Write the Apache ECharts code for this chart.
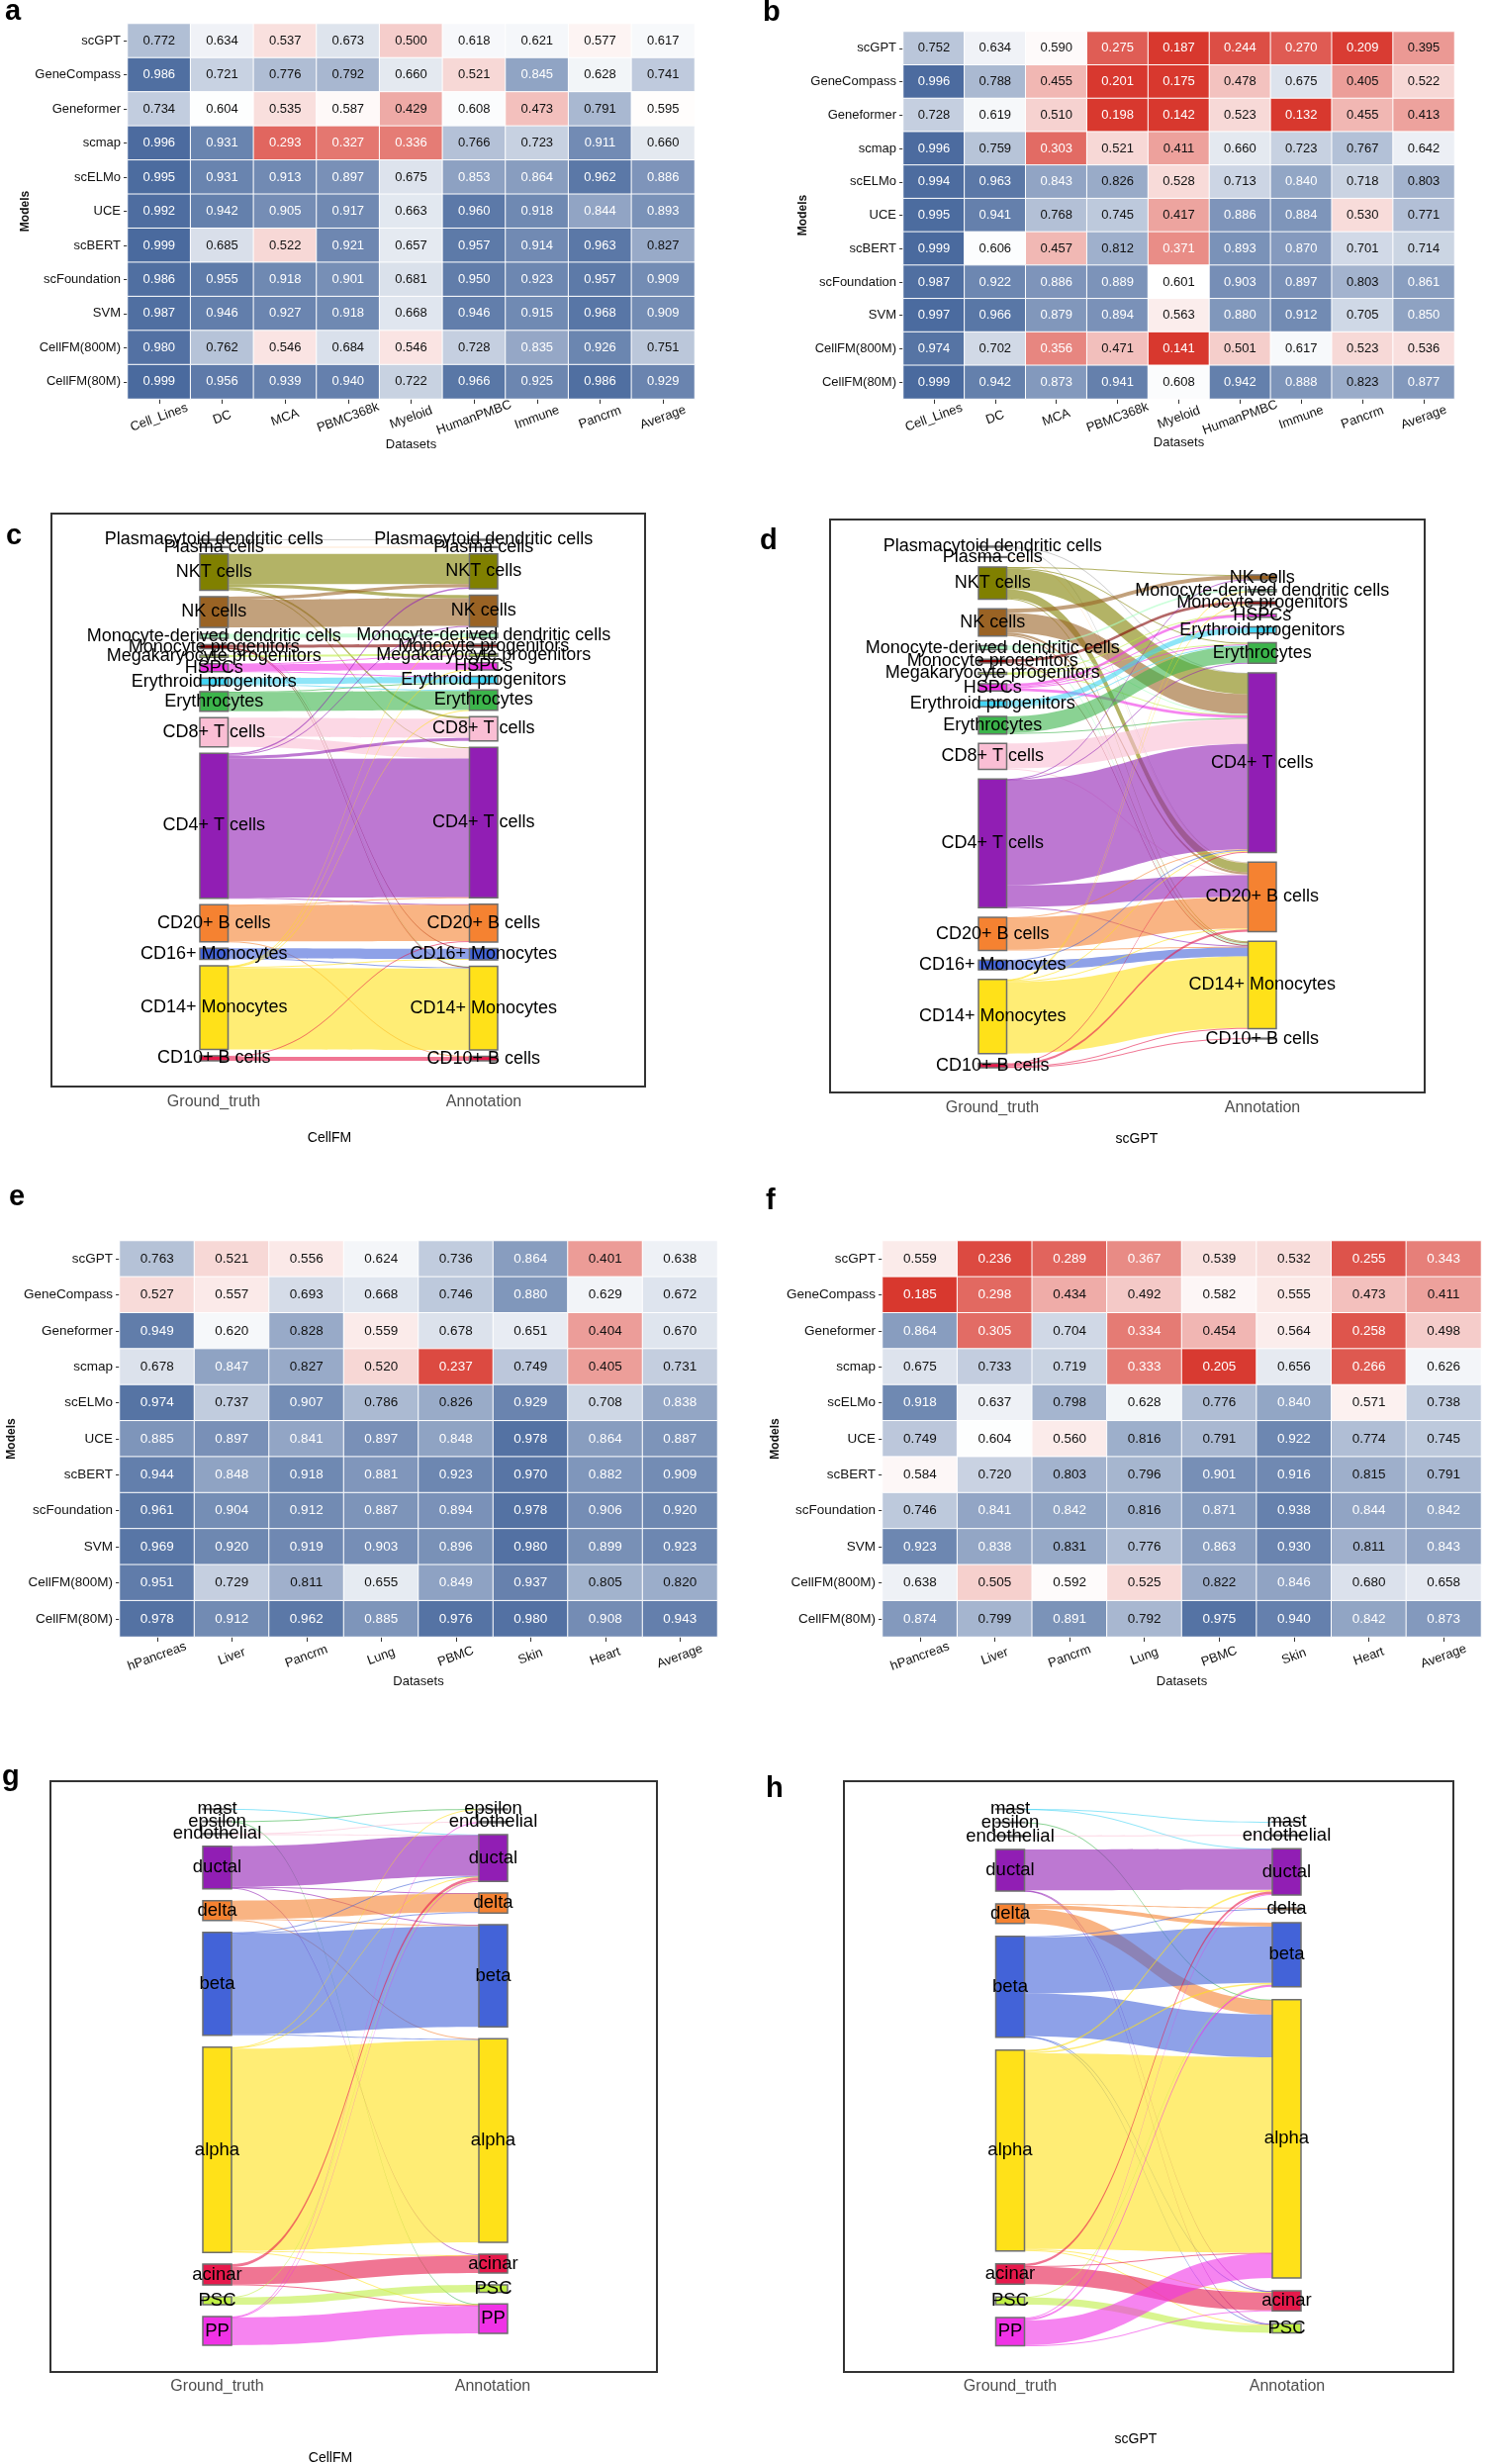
<!DOCTYPE html>
<html><head><meta charset="utf-8">
<script src="https://cdn.jsdelivr.net/npm/echarts@6/dist/echarts.min.js"></script>
<style>html,body{margin:0;padding:0;background:#fff}#c{width:1504px;height:2490px}</style>
</head><body><div id="c"></div>
<script>
// ---------------- DATA ----------------
const models = ['scGPT','GeneCompass','Geneformer','scmap','scELMo','UCE','scBERT','scFoundation','SVM','CellFM(800M)','CellFM(80M)'];
const datasetsAB = ['Cell_Lines','DC','MCA','PBMC368k','Myeloid','HumanPMBC','Immune','Pancrm','Average'];
const datasetsEF = ['hPancreas','Liver','Pancrm','Lung','PBMC','Skin','Heart','Average'];

const heatA = [
 [0.772,0.634,0.537,0.673,0.500,0.618,0.621,0.577,0.617],
 [0.986,0.721,0.776,0.792,0.660,0.521,0.845,0.628,0.741],
 [0.734,0.604,0.535,0.587,0.429,0.608,0.473,0.791,0.595],
 [0.996,0.931,0.293,0.327,0.336,0.766,0.723,0.911,0.660],
 [0.995,0.931,0.913,0.897,0.675,0.853,0.864,0.962,0.886],
 [0.992,0.942,0.905,0.917,0.663,0.960,0.918,0.844,0.893],
 [0.999,0.685,0.522,0.921,0.657,0.957,0.914,0.963,0.827],
 [0.986,0.955,0.918,0.901,0.681,0.950,0.923,0.957,0.909],
 [0.987,0.946,0.927,0.918,0.668,0.946,0.915,0.968,0.909],
 [0.980,0.762,0.546,0.684,0.546,0.728,0.835,0.926,0.751],
 [0.999,0.956,0.939,0.940,0.722,0.966,0.925,0.986,0.929]
];
const heatB = [
 [0.752,0.634,0.590,0.275,0.187,0.244,0.270,0.209,0.395],
 [0.996,0.788,0.455,0.201,0.175,0.478,0.675,0.405,0.522],
 [0.728,0.619,0.510,0.198,0.142,0.523,0.132,0.455,0.413],
 [0.996,0.759,0.303,0.521,0.411,0.660,0.723,0.767,0.642],
 [0.994,0.963,0.843,0.826,0.528,0.713,0.840,0.718,0.803],
 [0.995,0.941,0.768,0.745,0.417,0.886,0.884,0.530,0.771],
 [0.999,0.606,0.457,0.812,0.371,0.893,0.870,0.701,0.714],
 [0.987,0.922,0.886,0.889,0.601,0.903,0.897,0.803,0.861],
 [0.997,0.966,0.879,0.894,0.563,0.880,0.912,0.705,0.850],
 [0.974,0.702,0.356,0.471,0.141,0.501,0.617,0.523,0.536],
 [0.999,0.942,0.873,0.941,0.608,0.942,0.888,0.823,0.877]
];
const heatE = [
 [0.763,0.521,0.556,0.624,0.736,0.864,0.401,0.638],
 [0.527,0.557,0.693,0.668,0.746,0.880,0.629,0.672],
 [0.949,0.620,0.828,0.559,0.678,0.651,0.404,0.670],
 [0.678,0.847,0.827,0.520,0.237,0.749,0.405,0.731],
 [0.974,0.737,0.907,0.786,0.826,0.929,0.708,0.838],
 [0.885,0.897,0.841,0.897,0.848,0.978,0.864,0.887],
 [0.944,0.848,0.918,0.881,0.923,0.970,0.882,0.909],
 [0.961,0.904,0.912,0.887,0.894,0.978,0.906,0.920],
 [0.969,0.920,0.919,0.903,0.896,0.980,0.899,0.923],
 [0.951,0.729,0.811,0.655,0.849,0.937,0.805,0.820],
 [0.978,0.912,0.962,0.885,0.976,0.980,0.908,0.943]
];
const heatF = [
 [0.559,0.236,0.289,0.367,0.539,0.532,0.255,0.343],
 [0.185,0.298,0.434,0.492,0.582,0.555,0.473,0.411],
 [0.864,0.305,0.704,0.334,0.454,0.564,0.258,0.498],
 [0.675,0.733,0.719,0.333,0.205,0.656,0.266,0.626],
 [0.918,0.637,0.798,0.628,0.776,0.840,0.571,0.738],
 [0.749,0.604,0.560,0.816,0.791,0.922,0.774,0.745],
 [0.584,0.720,0.803,0.796,0.901,0.916,0.815,0.791],
 [0.746,0.841,0.842,0.816,0.871,0.938,0.844,0.842],
 [0.923,0.838,0.831,0.776,0.863,0.930,0.811,0.843],
 [0.638,0.505,0.592,0.525,0.822,0.846,0.680,0.658],
 [0.874,0.799,0.891,0.792,0.975,0.940,0.842,0.873]
];

const pbmcTypes = ['Plasmacytoid dendritic cells','Plasma cells','NKT cells','NK cells','Monocyte-derived dendritic cells','Monocyte progenitors','Megakaryocyte progenitors','HSPCs','Erythroid progenitors','Erythrocytes','CD8+ T cells','CD4+ T cells','CD20+ B cells','CD16+ Monocytes','CD14+ Monocytes','CD10+ B cells'];
const pbmcColors = ['#a9a9a9','#ffd8b1','#808000','#9a6324','#aaffc3','#800000','#bfef45','#f032e6','#42d4f4','#3cb44b','#fabed4','#911eb4','#f58231','#4363d8','#ffe119','#e6194b'];
const pancTypes = ['mast','epsilon','endothelial','ductal','delta','beta','alpha','acinar','PSC','PP'];
const pancColors = ['#42d4f4','#3cb44b','#fabed4','#911eb4','#f58231','#4363d8','#ffe119','#e6194b','#bfef45','#f032e6'];

// [ground truth, annotation, cells]
const linksCellFMPbmc = [
 ['Plasmacytoid dendritic cells','Plasmacytoid dendritic cells',10],
 ['Plasma cells','Plasma cells',8],
 ['NKT cells','NKT cells',300],['NKT cells','NK cells',30],['NKT cells','CD8+ T cells',20],['NKT cells','CD4+ T cells',10],
 ['NK cells','NK cells',275],['NK cells','NKT cells',30],
 ['Monocyte-derived dendritic cells','Monocyte-derived dendritic cells',40],['Monocyte-derived dendritic cells','CD14+ Monocytes',5],
 ['Monocyte progenitors','Monocyte progenitors',30],['Monocyte progenitors','CD14+ Monocytes',5],['Monocyte progenitors','CD16+ Monocytes',5],
 ['Megakaryocyte progenitors','Megakaryocyte progenitors',20],
 ['HSPCs','HSPCs',70],['HSPCs','Erythroid progenitors',5],['HSPCs','Megakaryocyte progenitors',5],
 ['Erythroid progenitors','Erythroid progenitors',60],['Erythroid progenitors','Erythrocytes',10],
 ['Erythrocytes','Erythrocytes',190],['Erythrocytes','Erythroid progenitors',5],
 ['CD8+ T cells','CD8+ T cells',190],['CD8+ T cells','CD4+ T cells',100],
 ['CD4+ T cells','CD4+ T cells',1380],['CD4+ T cells','CD8+ T cells',30],['CD4+ T cells','NKT cells',15],['CD4+ T cells','NK cells',10],['CD4+ T cells','CD20+ B cells',5],
 ['CD20+ B cells','CD20+ B cells',360],['CD20+ B cells','CD10+ B cells',5],['CD20+ B cells','CD4+ T cells',5],
 ['CD16+ Monocytes','CD16+ Monocytes',100],['CD16+ Monocytes','CD14+ Monocytes',10],
 ['CD14+ Monocytes','CD14+ Monocytes',809],['CD14+ Monocytes','CD16+ Monocytes',10],['CD14+ Monocytes','Monocyte-derived dendritic cells',5],['CD14+ Monocytes','HSPCs',3],['CD14+ Monocytes','Erythrocytes',3],
 ['CD10+ B cells','CD10+ B cells',40],['CD10+ B cells','CD20+ B cells',10]
];
const linksScGPTPbmc = [
 ['Plasmacytoid dendritic cells','CD4+ T cells',5],['Plasmacytoid dendritic cells','CD20+ B cells',5],
 ['Plasma cells','CD20+ B cells',8],
 ['NKT cells','CD4+ T cells',235],['NKT cells','CD20+ B cells',100],['NKT cells','NK cells',5],['NKT cells','CD14+ Monocytes',10],['NKT cells','Erythrocytes',10],
 ['NK cells','CD4+ T cells',220],['NK cells','NK cells',45],['NK cells','CD20+ B cells',25],['NK cells','CD14+ Monocytes',15],
 ['Monocyte-derived dendritic cells','Monocyte-derived dendritic cells',20],['Monocyte-derived dendritic cells','CD14+ Monocytes',15],['Monocyte-derived dendritic cells','CD4+ T cells',10],
 ['Monocyte progenitors','Monocyte progenitors',30],['Monocyte progenitors','CD14+ Monocytes',10],
 ['Megakaryocyte progenitors','Erythrocytes',10],['Megakaryocyte progenitors','HSPCs',5],['Megakaryocyte progenitors','CD4+ T cells',5],
 ['HSPCs','HSPCs',30],['HSPCs','CD4+ T cells',30],['HSPCs','Erythrocytes',10],['HSPCs','Erythroid progenitors',10],
 ['Erythroid progenitors','Erythroid progenitors',60],['Erythroid progenitors','Erythrocytes',10],
 ['Erythrocytes','Erythrocytes',185],['Erythrocytes','CD4+ T cells',10],
 ['CD8+ T cells','CD4+ T cells',280],['CD8+ T cells','CD20+ B cells',10],
 ['CD4+ T cells','CD4+ T cells',1180],['CD4+ T cells','CD20+ B cells',240],['CD4+ T cells','CD14+ Monocytes',10],['CD4+ T cells','NK cells',5],['CD4+ T cells','Erythrocytes',5],
 ['CD20+ B cells','CD20+ B cells',355],['CD20+ B cells','CD4+ T cells',5],['CD20+ B cells','CD14+ Monocytes',10],
 ['CD16+ Monocytes','CD14+ Monocytes',100],['CD16+ Monocytes','CD4+ T cells',10],
 ['CD14+ Monocytes','CD14+ Monocytes',800],['CD14+ Monocytes','CD20+ B cells',10],['CD14+ Monocytes','CD4+ T cells',10],['CD14+ Monocytes','Monocyte progenitors',5],['CD14+ Monocytes','Monocyte-derived dendritic cells',5],
 ['CD10+ B cells','CD10+ B cells',8],['CD10+ B cells','CD20+ B cells',25],['CD10+ B cells','CD4+ T cells',10],['CD10+ B cells','CD14+ Monocytes',7]
];
const linksCellFMPanc = [
 ['mast','ductal',5],
 ['epsilon','epsilon',3],['epsilon','PP',2],
 ['endothelial','endothelial',8],['endothelial','ductal',2],
 ['ductal','ductal',410],['ductal','acinar',10],['ductal','delta',5],['ductal','beta',5],
 ['delta','delta',185],['delta','beta',10],['delta','alpha',5],
 ['beta','beta',1015],['beta','delta',10],['beta','ductal',5],['beta','alpha',10],
 ['alpha','alpha',2040],['alpha','ductal',10],['alpha','epsilon',5],['alpha','PP',10],['alpha','acinar',5],
 ['acinar','acinar',175],['acinar','ductal',30],['acinar','PP',5],
 ['PSC','PSC',75],['PSC','ductal',5],
 ['PP','PP',280],['PP','ductal',5],['PP','endothelial',5]
];
const linksScGPTPanc = [
 ['mast','mast',3],['mast','ductal',2],
 ['epsilon','alpha',5],
 ['endothelial','endothelial',10],
 ['ductal','ductal',420],['ductal','acinar',5],['ductal','PSC',5],
 ['delta','delta',10],['delta','beta',40],['delta','alpha',150],
 ['beta','beta',580],['beta','alpha',440],['beta','delta',10],['beta','acinar',5],['beta','PSC',5],
 ['alpha','alpha',2015],['alpha','ductal',20],['alpha','beta',15],['alpha','acinar',10],['alpha','PSC',10],
 ['acinar','acinar',180],['acinar','ductal',25],['acinar','alpha',5],
 ['PSC','PSC',75],['PSC','beta',5],
 ['PP','alpha',255],['PP','beta',20],['PP','ductal',10],['PP','acinar',5]
];

// ---------------- LAYOUT / STYLE ----------------
const FONT = '"Liberation Sans", Arial, Helvetica, sans-serif';
const heatPanels = [
  {data: heatA, cats: datasetsAB, grid: {left:129, top:24, width:573, height:379}, fs:13, margin:19},
  {data: heatB, cats: datasetsAB, grid: {left:913, top:32, width:557, height:371}, fs:13, margin:19},
  {data: heatE, cats: datasetsEF, grid: {left:121, top:1254, width:604, height:400}, fs:13.5, margin:20},
  {data: heatF, cats: datasetsEF, grid: {left:892, top:1254, width:605, height:400}, fs:13.5, margin:20}
];
const sankeyPanels = [
  {types: pbmcTypes, colors: pbmcColors, links: linksCellFMPbmc, left:202, top:545, width:301, height:527, nodeWidth:28.5, gap:6.5, fs:18},
  {types: pbmcTypes, colors: pbmcColors, links: linksScGPTPbmc, left:989, top:552, width:301, height:527, nodeWidth:28.5, gap:9.7, fs:18},
  {types: pancTypes, colors: pancColors, links: linksCellFMPanc, left:205, top:1828, width:308, height:542, nodeWidth:29, gap:11.9, fs:18.5},
  {types: pancTypes, colors: pancColors, links: linksScGPTPanc, left:1006.5, top:1828, width:308.5, height:542.5, nodeWidth:29, gap:13, fs:18.5}
];

const grids = [], xAxes = [], yAxes = [], series = [];
heatPanels.forEach((p, i) => {
  grids.push(Object.assign({}, p.grid));
  xAxes.push({type:'category', gridIndex:i, data:p.cats, axisLine:{show:false},
    axisTick:{show:true, alignWithLabel:true, length:5, lineStyle:{color:'#333'}},
    axisLabel:{interval:0, rotate:20, align:'center', verticalAlign:'middle', margin:p.margin, fontSize:13, color:'#111', fontFamily:FONT},
    splitLine:{show:false}});
  yAxes.push({type:'category', gridIndex:i, data:models, inverse:true, axisLine:{show:false},
    axisTick:{show:true, alignWithLabel:true, length:4, lineStyle:{color:'#333'}},
    axisLabel:{interval:0, margin:7, fontSize:p.fs, color:'#111', fontFamily:FONT},
    splitLine:{show:false}});
  const d = [];
  p.data.forEach((row, r) => row.forEach((v, c) => {
    const white = v < 0.38 || v > 0.832;
    d.push({value:[c, r, v], label:{color: white ? '#ffffff' : '#111111'}});
  }));
  series.push({type:'heatmap', xAxisIndex:i, yAxisIndex:i, data:d,
    itemStyle:{borderColor:'#ffffff', borderWidth:1},
    label:{show:true, fontSize:p.fs, fontFamily:FONT, formatter: q => q.value[2].toFixed(3)},
    emphasis:{disabled:true}});
});

function buildSankey(p) {
  const colorOf = {};
  p.types.forEach((t, i) => colorOf[t] = p.colors[i]);
  const ls = {}, rs = {};
  p.links.forEach(([s, t, v]) => { ls[s] = (ls[s] || 0) + v; rs[t] = (rs[t] || 0) + v; });
  const lt = p.types.filter(t => ls[t]), rt = p.types.filter(t => rs[t]);
  const SL = lt.reduce((a, t) => a + ls[t], 0), SR = rt.reduce((a, t) => a + rs[t], 0);
  const g = p.gap, H = p.height;
  const ky = Math.min((H - (lt.length - 1) * g) / SL, (H - (rt.length - 1) * g) / SR);
  const spacer = (S, n) => { const off = (H - (S * ky + (n - 1) * g)) / 2; return off > 0.6 * g ? Math.max(0.001, (off - g) / ky) : null; };
  const hidden = {itemStyle:{color:'rgba(0,0,0,0)', borderWidth:0}, label:{show:false}};
  const nodes = [];
  const sl = spacer(SL, lt.length), sr = spacer(SR, rt.length);
  if (sl != null) nodes.push(Object.assign({name:'L|', value:sl, depth:0}, hidden));
  lt.forEach(t => nodes.push({name:'L|' + t, depth:0, itemStyle:{color:colorOf[t]}}));
  if (sr != null) nodes.push(Object.assign({name:'R|', value:sr, depth:1}, hidden));
  rt.forEach(t => nodes.push({name:'R|' + t, depth:1, itemStyle:{color:colorOf[t]}}));
  const edges = p.links.map(([s, t, v]) => ({source:'L|' + s, target:'R|' + t, value:v}));
  return {type:'sankey', left:p.left, top:p.top, width:p.width, height:p.height,
    nodeWidth:p.nodeWidth, nodeGap:g, layoutIterations:0, nodeAlign:'justify', draggable:false,
    data:nodes, links:edges,
    itemStyle:{borderColor:'#6e6e6e', borderWidth:1.5},
    lineStyle:{color:'source', opacity:0.6, curveness:0.5},
    label:{show:true, position:'inside', color:'#000', fontSize:p.fs, fontFamily:FONT, formatter: q => q.name.split('|')[1]},
    emphasis:{disabled:true}};
}
sankeyPanels.forEach(p => series.push(buildSankey(p)));

// ---------------- GRAPHIC TEXT ----------------
const gfx = [];
function txt(x, y, text, font, fill, align, rot) {
  gfx.push({type:'text', x:x, y:y, rotation: rot || 0, silent:true,
    style:{text:text, font:font, fill:fill, align:align || 'center', verticalAlign:'middle'}});
}
function box(x, y, w, h) {
  gfx.push({type:'rect', silent:true, shape:{x:x, y:y, width:w, height:h}, style:{fill:'none', stroke:'#333', lineWidth:2}});
}
const LET = 'bold 29px ' + FONT;
[['a',5,12],['b',771,13],['c',6,542],['d',768,547],['e',9,1210],['f',774,1214],['g',2,1796],['h',774,1808]]
  .forEach(([t, x, y]) => txt(x, y, t, LET, '#000', 'left'));
const AX = '13px ' + FONT, MOD = 'bold 12px ' + FONT;
[[415.5,449],[1191.5,447],[423,1699],[1194.5,1699]].forEach(([x, y]) => txt(x, y, 'Datasets', AX, '#111'));
[[26,213.5],[812,217.5],[12,1454],[784,1454]].forEach(([x, y]) => txt(x, y, 'Models', MOD, '#111', 'center', Math.PI / 2));
box(52, 519, 600, 579); box(839, 525, 601, 579); box(51, 1800, 613, 597); box(853, 1800, 616, 597);
const GT = '16px ' + FONT, TT = '14px ' + FONT;
[[216,1113.5,'Ground_truth'],[489,1113.5,'Annotation'],[1003,1119.5,'Ground_truth'],[1276,1119.5,'Annotation'],
 [219.5,2412,'Ground_truth'],[498,2412,'Annotation'],[1021,2412,'Ground_truth'],[1301,2412,'Annotation']]
  .forEach(([x, y, t]) => txt(x, y, t, GT, '#4d4d4d'));
[[333,1150,'CellFM'],[1149,1151.5,'scGPT'],[334,2484,'CellFM'],[1148,2465,'scGPT']]
  .forEach(([x, y, t]) => txt(x, y, t, TT, '#000'));

const chart = echarts.init(document.getElementById('c'), null, {renderer:'canvas'});
chart.setOption({
  animation:false,
  backgroundColor:'#ffffff',
  grid: grids, xAxis: xAxes, yAxis: yAxes,
  visualMap: {type:'continuous', show:false, seriesIndex:[0,1,2,3], dimension:2, min:0.2, max:1.0,
    inRange:{color:['#d8382e','#ffffff','#4a6a9e']}},
  series: series,
  graphic: {elements: gfx}
});
</script></body></html>
